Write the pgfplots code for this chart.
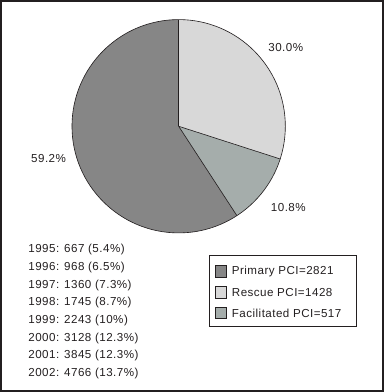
\documentclass[border=0pt]{standalone}
\usepackage{pgfplots}
\pgfplotsset{compat=1.18}
\usepackage{pgfplotstable}
\usepackage{fontspec}
\setmainfont{Liberation Sans}[LetterSpace=4]
\definecolor{ink}{HTML}{231F20}
\definecolor{primc}{HTML}{868686}
\definecolor{resc}{HTML}{D8D8D8}
\definecolor{facc}{HTML}{A5ADAB}
\pgfplotstableread{
type value
Primary 2821
Rescue 1428
Facilitated 517
}\pcidata
\begin{document}
\begin{tikzpicture}[font=\fontsize{11.2}{13}\selectfont, text=ink]
\pgfplotstablegetelem{0}{value}\of\pcidata \edef\vP{\pgfplotsretval}
\pgfplotstablegetelem{1}{value}\of\pcidata \edef\vR{\pgfplotsretval}
\pgfplotstablegetelem{2}{value}\of\pcidata \edef\vF{\pgfplotsretval}
\pgfmathsetmacro\tot{\vP+\vR+\vF}
\pgfmathsetmacro\fR{\vR/\tot}
\pgfmathsetmacro\fF{\vF/\tot}
\pgfmathsetmacro\aR{90-360*\fR}
\pgfmathsetmacro\aF{\aR-360*\fF}
\begin{axis}[
  width=383pt, height=392pt, scale only axis,
  xmin=0, xmax=383, ymin=0, ymax=392, y dir=reverse,
  hide axis, clip=false]
% pie
\fill[resc] (axis cs:179.6,129) -- ++(90:103pt) arc[start angle=90, end angle=\aR, radius=103pt] -- cycle;
\fill[facc] (axis cs:179.6,129) -- ++(\aR:103pt) arc[start angle=\aR, end angle=\aF, radius=103pt] -- cycle;
\fill[primc] (axis cs:179.6,129) -- ++(\aF:103pt) arc[start angle=\aF, end angle=-270, radius=103pt] -- cycle;
\draw[ink, line width=0.6pt] (axis cs:179.6,129) circle[radius=103pt];
\draw[ink, line width=0.6pt] (axis cs:179.6,129) -- ++(90:103pt);
\draw[ink, line width=0.6pt] (axis cs:179.6,129) -- ++(\aR:103pt);
\draw[ink, line width=0.6pt] (axis cs:179.6,129) -- ++(\aF:103pt);
% percentage labels
\node at (axis cs:283,53) {30.0\%};
\node at (axis cs:54,160) {59.2\%};
\node at (axis cs:285.5,207.7) {10.8\%};
% yearly list
\node[anchor=west] at (axis cs:31,248.3) {1995: 667 (5.4\%)};
\node[anchor=west] at (axis cs:31,265.4) {1996: 968 (6.5\%)};
\node[anchor=west] at (axis cs:31,282.4) {1997: 1360 (7.3\%)};
\node[anchor=west] at (axis cs:31,299.5) {1998: 1745 (8.7\%)};
\node[anchor=west] at (axis cs:31,316.5) {1999: 2243 (10\%)};
\node[anchor=west] at (axis cs:31,333.6) {2000: 3128 (12.3\%)};
\node[anchor=west] at (axis cs:31,350.6) {2001: 3845 (12.3\%)};
\node[anchor=west] at (axis cs:31,367.7) {2002: 4766 (13.7\%)};
% legend
\draw[ink, line width=0.7pt] (axis cs:209.5,254) rectangle (axis cs:351,322.3);
\draw[ink, line width=0.5pt, fill=primc] (axis cs:214.5,263.5) rectangle (axis cs:225.5,274.5);
\draw[ink, line width=0.5pt, fill=resc] (axis cs:214.5,283.8) rectangle (axis cs:225.5,294.8);
\draw[ink, line width=0.5pt, fill=facc] (axis cs:214.5,303.8) rectangle (axis cs:225.5,314.8);
\node[anchor=west] at (axis cs:227.5,269) {Primary PCI=2821};
\node[anchor=west] at (axis cs:227.5,289.3) {Rescue PCI=1428};
\node[anchor=west] at (axis cs:227.5,309.3) {Facilitated PCI=517};
% outer frame
\draw[ink, line width=2.2pt] (axis cs:8.2,8.2) rectangle (axis cs:376.9,384.5);
\end{axis}
\end{tikzpicture}
\end{document}
